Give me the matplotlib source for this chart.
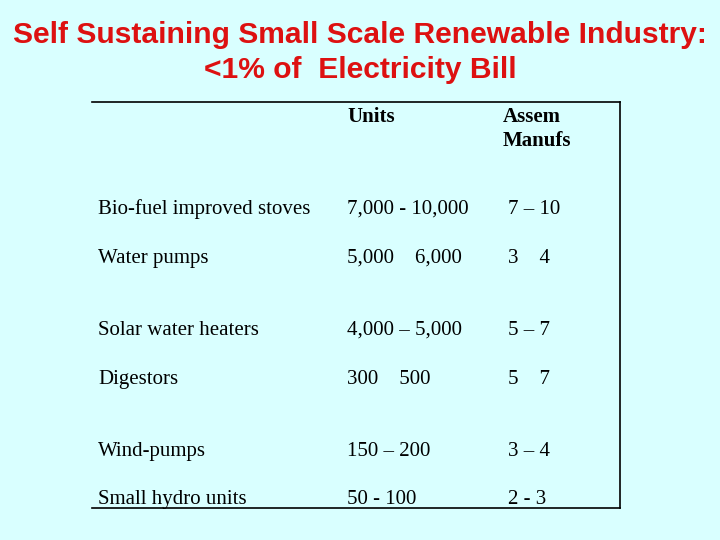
import matplotlib
matplotlib.use("Agg")
import matplotlib.pyplot as plt

# table content
technologies = ["Bio-fuel improved stoves", "Water pumps", "Solar water heaters",
                "Digestors", "Wind-pumps", "Small hydro units"]
units = ["7,000 - 10,000", "5,000    6,000", "4,000 \u2013 5,000",
         "300    500", "150 \u2013 200", "50 - 100"]
manufacturers = ["7 \u2013 10", "3    4", "5 \u2013 7", "5    7", "3 \u2013 4", "2 - 3"]
headers = ["Units", "Assem", "Manufs"]

title_lines = ["Self Sustaining Small Scale Renewable Industry:", "<1% of  Electricity Bill"]

# layout (pixel coordinates of a 720x540 slide, text baselines)
row_y = [214, 263, 335, 384, 456, 504]
col_x = [98, 347, 508]
bg = "#d9ffff"
fs = 15

fig = plt.figure(figsize=(7.2, 5.4), dpi=100, facecolor=bg)
ax = fig.add_axes([0, 0, 1, 1])
ax.set_xlim(0, 720)
ax.set_ylim(540, 0)
ax.axis("off")
ax.set_facecolor(bg)

for y, line in zip([43, 78], title_lines):
    ax.text(360, y, line, ha="center", va="baseline", color="#dd1111",
            fontsize=21.6, fontweight="bold", family="Liberation Sans")

# box: top, right and bottom edges only
ax.plot([92, 620], [102, 102], color="black", lw=1.2)
ax.plot([620, 620], [102, 508], color="black", lw=1.2)
ax.plot([92, 620], [508, 508], color="black", lw=1.2)

serif = "Liberation Serif"
for x, y, h in zip([col_x[1], col_x[2] - 5, col_x[2] - 5], [122, 122, 146], headers):
    ax.text(x, y, h, ha="left", va="baseline", fontsize=fs,
            fontweight="bold", family=serif)

for y, name, u, m in zip(row_y, technologies, units, manufacturers):
    ax.text(col_x[0], y, name, ha="left", va="baseline", fontsize=fs, family=serif)
    ax.text(col_x[1], y, u, ha="left", va="baseline", fontsize=fs, family=serif)
    ax.text(col_x[2], y, m, ha="left", va="baseline", fontsize=fs, family=serif)

fig.savefig("out.png", dpi=100, facecolor=bg)
